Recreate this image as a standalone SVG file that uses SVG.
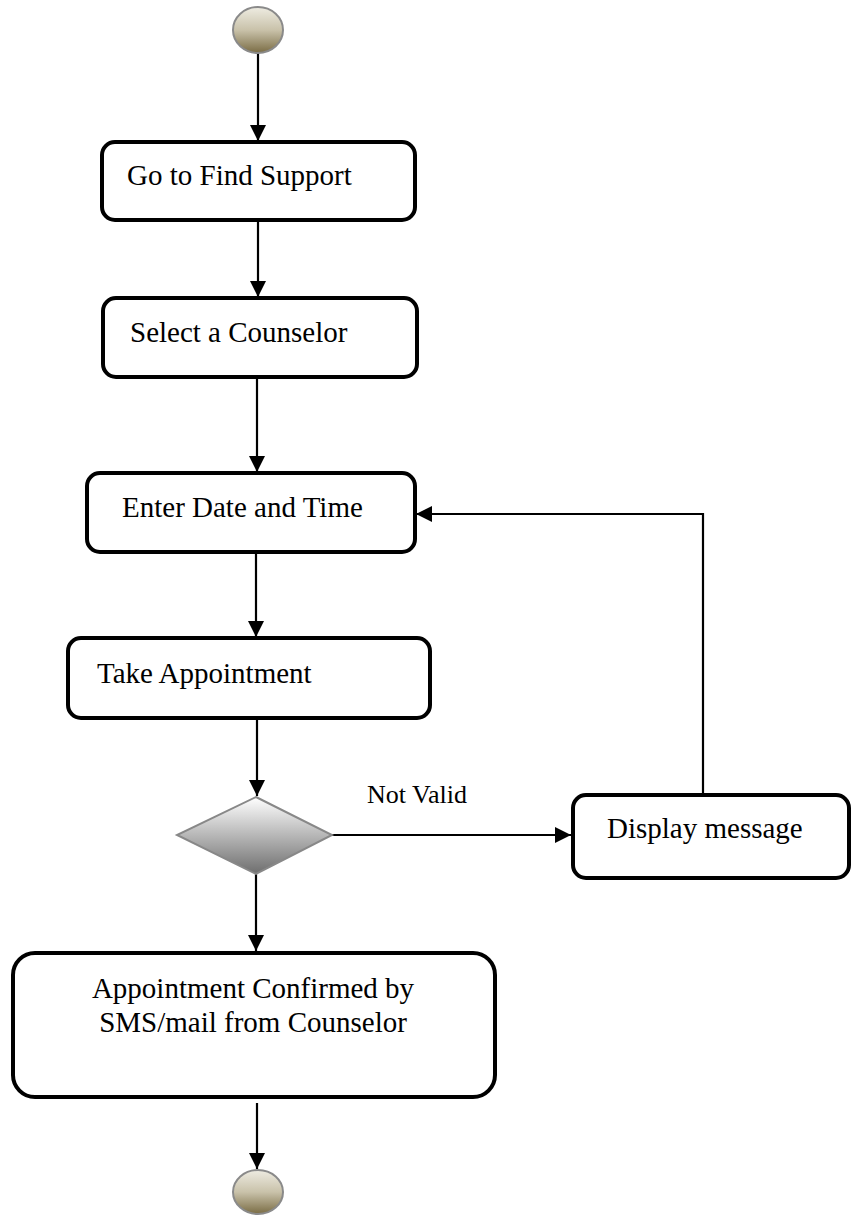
<svg xmlns="http://www.w3.org/2000/svg" width="851" height="1215" viewBox="0 0 851 1215">
<style>
.box{fill:#fff;stroke:#000;stroke-width:4}
.lbl{font-family:"Liberation Serif","Times New Roman",serif;font-size:29px;fill:#000}
.edge{fill:none;stroke:#000;stroke-width:2.2}
.term{fill:url(#termGrad);stroke:#8a8a8a;stroke-width:2}
</style>
<defs>
<linearGradient id="termGrad" x1="0" y1="0" x2="0" y2="1">
<stop offset="0" stop-color="#eeece2"/>
<stop offset="0.5" stop-color="#c9c2aa"/>
<stop offset="1" stop-color="#7a6c44"/>
</linearGradient>
<linearGradient id="diaGrad" x1="0" y1="0" x2="0" y2="1">
<stop offset="0" stop-color="#ffffff"/>
<stop offset="1" stop-color="#6e6e6e"/>
</linearGradient>
<marker id="arrow" markerUnits="userSpaceOnUse" markerWidth="16" markerHeight="16" viewBox="0 0 16 16" refX="16" refY="8" orient="auto">
<path d="M0,0 L16,8 L0,16 Z" fill="#000"/>
</marker>
</defs>

<g id="edges">
<line class="edge" x1="258" y1="53" x2="258" y2="141" marker-end="url(#arrow)"/>
<line class="edge" x1="258" y1="220" x2="258" y2="297" marker-end="url(#arrow)"/>
<line class="edge" x1="257" y1="377" x2="257" y2="472" marker-end="url(#arrow)"/>
<line class="edge" x1="256" y1="552" x2="256" y2="637" marker-end="url(#arrow)"/>
<line class="edge" x1="257" y1="712" x2="257" y2="796" marker-end="url(#arrow)"/>
<line class="edge" x1="332" y1="835" x2="571" y2="835" marker-end="url(#arrow)"/>
<polyline class="edge" points="703,795 703,514 416,514" marker-end="url(#arrow)"/>
<line class="edge" x1="256" y1="874" x2="256" y2="951" marker-end="url(#arrow)"/>
<line class="edge" x1="257" y1="1103" x2="257" y2="1169" marker-end="url(#arrow)"/>
</g>

<g id="start">
<ellipse class="term" cx="258" cy="30" rx="25" ry="23"/>
</g>

<g id="n1">
<rect class="box" x="102" y="142" width="313" height="78" rx="13"/>
<text class="lbl" x="127" y="185">Go to Find Support</text>
</g>

<g id="n2">
<rect class="box" x="103" y="298" width="314" height="79" rx="13"/>
<text class="lbl" x="130" y="342">Select a Counselor</text>
</g>

<g id="n3">
<rect class="box" x="87" y="473" width="328" height="79" rx="13"/>
<text class="lbl" x="122" y="517">Enter Date and Time</text>
</g>

<g id="n4">
<rect class="box" x="68" y="638" width="362" height="80" rx="13"/>
<text class="lbl" x="97" y="683">Take Appointment</text>
</g>

<g id="decision">
<polygon points="256,797 332,835 256,874 177,835" fill="url(#diaGrad)" stroke="#888" stroke-width="2"/>
</g>

<g id="notvalid">
<text class="lbl" x="367" y="803" style="font-size:26px">Not Valid</text>
</g>

<g id="n5">
<rect class="box" x="573" y="795" width="276" height="83" rx="13"/>
<text class="lbl" x="607" y="838">Display message</text>
</g>

<g id="n6">
<rect class="box" x="13" y="953" width="482" height="144" rx="22"/>
<text class="lbl" x="253" y="998" text-anchor="middle">Appointment Confirmed by</text>
<text class="lbl" x="253" y="1032" text-anchor="middle">SMS/mail from Counselor</text>
</g>

<g id="end">
<ellipse class="term" cx="258" cy="1192" rx="25" ry="22"/>
</g>
</svg>
